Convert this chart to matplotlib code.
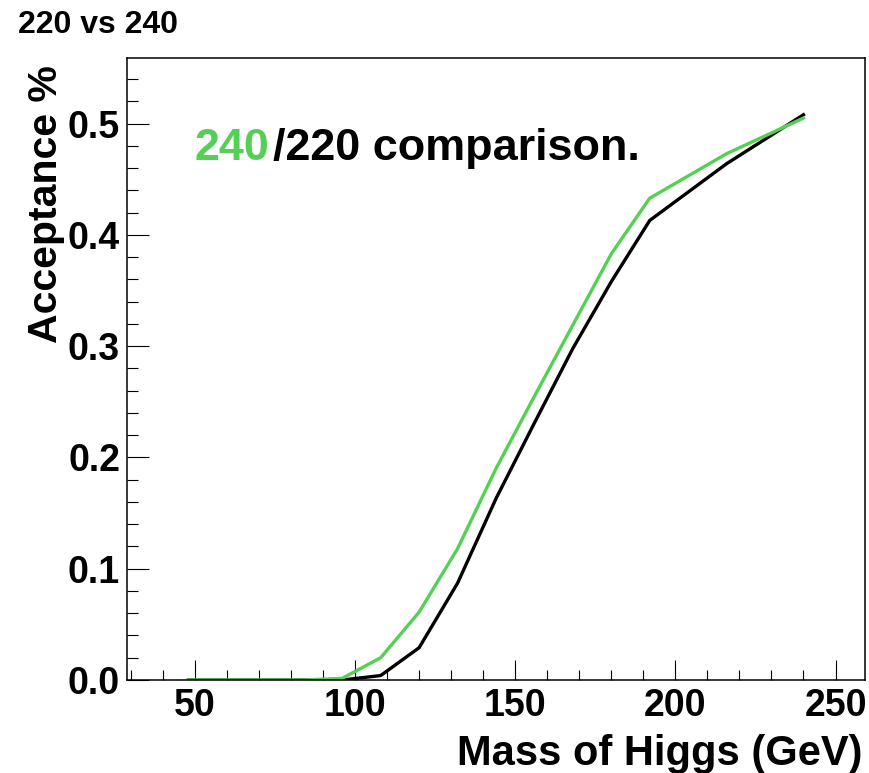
import matplotlib
matplotlib.use("Agg")
import matplotlib.pyplot as plt
from matplotlib.ticker import MultipleLocator, FormatStrFormatter

plt.rcParams['font.family'] = ['Liberation Sans', 'DejaVu Sans']
plt.rcParams['font.weight'] = 'bold'

# Higgs mass points (GeV) and acceptance for the two energies
mass = [48, 60, 72, 84, 96, 108, 120, 132, 144, 156, 168, 180, 192, 216, 240]
acc_220 = [0.0, 0.0, 0.0, 0.0, 0.0, 0.004, 0.029, 0.087, 0.163, 0.231,
           0.298, 0.358, 0.413, 0.464, 0.508]
acc_240 = [0.0, 0.0, 0.0, 0.0, 0.0015, 0.020, 0.061, 0.118, 0.190, 0.255,
           0.319, 0.383, 0.433, 0.473, 0.505]

green = '#55d055'

fig = plt.figure(figsize=(8.69, 7.73), dpi=100)
ax = fig.add_axes([0.1461, 0.1203, 0.8493, 0.8047])

ax.plot(mass, acc_220, color='black', lw=2.4)
ax.plot(mass, acc_240, color=green, lw=2.4)

ax.set_xlim(28.8, 259.2)
ax.set_ylim(0.0, 0.559)

ax.xaxis.set_major_locator(MultipleLocator(50))
ax.xaxis.set_minor_locator(MultipleLocator(10))
ax.yaxis.set_major_locator(MultipleLocator(0.1))
ax.yaxis.set_minor_locator(MultipleLocator(0.02))
ax.yaxis.set_major_formatter(FormatStrFormatter('%.1f'))

ax.tick_params(axis='both', which='both', direction='in', width=0.8,
               top=False, right=False, labelsize=27)
ax.tick_params(axis='x', which='major', length=14.4, pad=5.5)
ax.tick_params(axis='x', which='minor', length=7.2)
ax.tick_params(axis='y', which='major', length=15.8, pad=5)
ax.tick_params(axis='y', which='minor', length=7.9)
for lab in ax.get_xticklabels() + ax.get_yticklabels():
    lab.set_fontweight('bold')
for sp in ax.spines.values():
    sp.set_linewidth(1.1)

ax.set_xlabel('Mass of Higgs (GeV)', fontsize=30, fontweight='bold',
              ha='right', va='baseline')
ax.xaxis.set_label_coords(0.996, -0.1367)
ax.set_ylabel('Acceptance %', fontsize=29.5, fontweight='bold',
              ha='right', va='baseline', rotation=90, rotation_mode='anchor')
ax.yaxis.set_label_coords(-0.0949, 0.989)

fig.text(0.021, 1 - 33 / 773, '220 vs 240', fontsize=23, fontweight='bold',
         va='baseline', ha='left')

# two-coloured annotation inside the plot
t1 = fig.text(195 / 869, 1 - 160 / 773, '240', fontsize=32.4, fontweight='bold',
              color=green, va='baseline', ha='left')
fig.canvas.draw()
bb = t1.get_window_extent()
x2 = fig.transFigure.inverted().transform((bb.x1 + 3, 0))[0]
fig.text(x2, 1 - 160 / 773, '/220 comparison.', fontsize=32.4, fontweight='bold',
         color='black', va='baseline', ha='left')

fig.savefig('out.png', dpi=100)
